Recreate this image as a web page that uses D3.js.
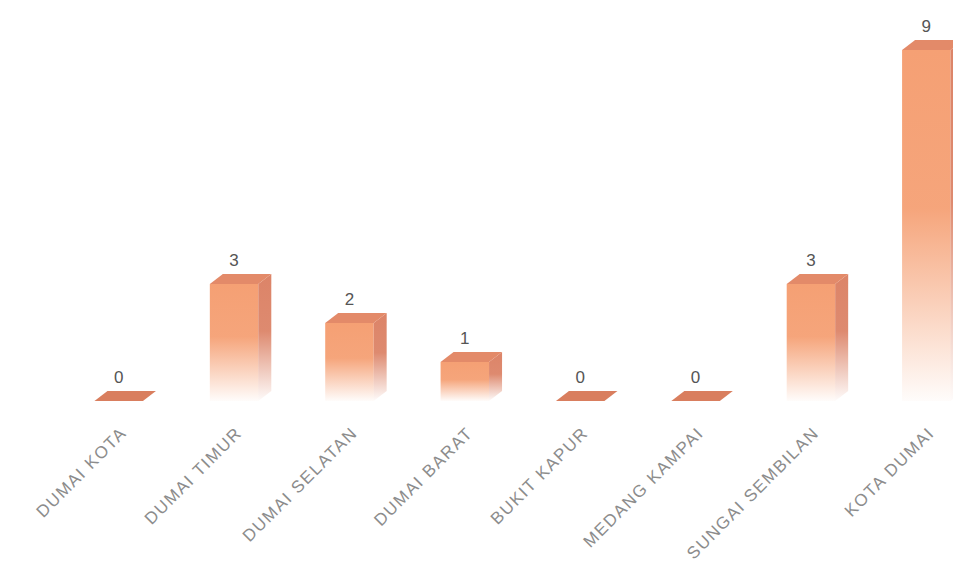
<!DOCTYPE html>
<html>
<head>
<meta charset="utf-8">
<script src="https://cdn.jsdelivr.net/npm/d3@7"></script>
<style>
html,body{margin:0;padding:0;background:#fff;}
svg{display:block;}
</style>
</head>
<body>
<svg id="chart" width="953" height="571"></svg>
<script>
const categories = ["DUMAI KOTA","DUMAI TIMUR","DUMAI SELATAN","DUMAI BARAT","BUKIT KAPUR","MEDANG KAMPAI","SUNGAI SEMBILAN","KOTA DUMAI"];
const values = [0,3,2,1,0,0,3,9];

const svg = d3.select("#chart");
const x = d3.scaleBand().domain(categories).range([61, 984]).paddingInner(0.58).paddingOuter(0.29);
const y = d3.scaleLinear().domain([0, 9]).range([401, 50]);
const dx = 13, dy = -10;

const defs = svg.append("defs");
function grad(id, color){
  const g = defs.append("linearGradient").attr("id", id)
    .attr("x1",0).attr("y1",0).attr("x2",0).attr("y2",1);
  g.append("stop").attr("offset","0").attr("stop-color",color).attr("stop-opacity",1);
  g.append("stop").attr("offset","0.45").attr("stop-color",color).attr("stop-opacity",0.95);
  g.append("stop").attr("offset","1").attr("stop-color",color).attr("stop-opacity",0.03);
}
grad("gFront","#F5A074");
grad("gSide","#DC8468");

const data = categories.map((c,i)=>({c, v: values[i]}));
const g = svg.append("g");

data.forEach(d => {
  const x0 = x(d.c), x1 = x0 + x.bandwidth();
  const yt = y(d.v), yb = y(0);
  const bg = g.append("g");
  if (d.v > 0) {
    bg.append("rect").attr("x", x0).attr("y", yt).attr("width", x1 - x0).attr("height", yb - yt)
      .attr("fill", "url(#gFront)");
    bg.append("path").attr("d", `M${x1},${yt} L${x1+dx},${yt+dy} L${x1+dx},${yb+dy} L${x1},${yb} Z`)
      .attr("fill", "url(#gSide)");
  }
  bg.append("path").attr("d", `M${x0},${yt} L${x1},${yt} L${x1+dx},${yt+dy} L${x0+dx},${yt+dy} Z`)
    .attr("fill", d.v > 0 ? "#E38A69" : "#D97E5E");
  g.append("text").attr("x", x0 + x.bandwidth()/2).attr("y", yt - 18)
    .attr("text-anchor","middle")
    .attr("font-family","Liberation Sans, Arial, sans-serif")
    .attr("font-size", 17).attr("fill","#555")
    .text(d.v);
});

g.selectAll("text.cat").data(data).enter().append("text")
  .attr("class","cat")
  .attr("transform", d => `translate(${x(d.c) + x.bandwidth()/2 + 9},${434}) rotate(-45)`)
  .attr("text-anchor","end")
  .attr("font-family","Liberation Sans, Arial, sans-serif")
  .attr("font-size", 17).attr("letter-spacing", 1.5)
  .attr("fill","#8c8c8c")
  .text(d => d.c);
</script>
</body>
</html>
